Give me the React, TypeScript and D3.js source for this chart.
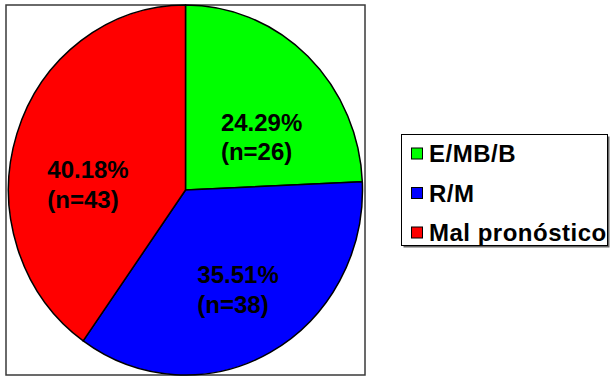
import React from "react";
import * as d3 from "d3";

// Prognosis groups, in drawing order (clockwise from 12 o'clock)
const categories = ["E/MB/B", "R/M", "Mal pronóstico"];
const percents = [24.29, 35.51, 40.18];
const counts = [26, 38, 43];
const colors = ["#00ff00", "#0000ff", "#ff0000"];

const W = 611;
const H = 376;
const FONT = "'Liberation Sans', Arial, Helvetica, sans-serif";

// plot frame and pie geometry
const frame = { x: 6, y: 5, w: 359, h: 370 };
const cx = 185.5;
const cy = 190;
const rx = 177;
const ry = 185;

// small per-slice shifts applied to the label anchor after centroid placement
const LABEL_NUDGE: [number, number][] = [
  [2, 21],
  [1, -4],
  [3, 22],
];

export default function App() {
  const pie = d3
    .pie<number>()
    .sort(null)
    .value((d) => d);
  const arcs = pie(percents);
  const arc = d3.arc<d3.PieArcDatum<number>>().innerRadius(0).outerRadius(rx);
  const labelArc = d3
    .arc<d3.PieArcDatum<number>>()
    .innerRadius(rx * 0.6)
    .outerRadius(rx * 0.6);
  const sy = ry / rx;

  const legendX = 401.5;
  const legendY = 134.5;
  const legendW = 206;
  const legendH = 111;
  const rowY = d3
    .scalePoint<string>()
    .domain(categories)
    .range([153.5, 232.5]);

  return (
    <svg
      width={W}
      height={H}
      style={{ position: "absolute", left: 0, top: 0, background: "#fff" }}
      fontFamily={FONT}
    >
      <rect
        x={frame.x}
        y={frame.y}
        width={frame.w}
        height={frame.h}
        fill="#fff"
        stroke="#3a3a3a"
        strokeWidth={1.5}
      />
      <g transform={`translate(${cx},${cy}) scale(1,${sy})`}>
        {arcs.map((a, i) => (
          <path
            key={categories[i]}
            d={arc(a) || ""}
            fill={colors[i]}
            stroke="#000"
            strokeWidth={1.5}
            strokeLinejoin="round"
            vectorEffect="non-scaling-stroke"
          />
        ))}
      </g>
      {arcs.map((a, i) => {
        const [px, py] = labelArc.centroid(a);
        const ax = cx + px + LABEL_NUDGE[i][0];
        const ay = cy + py * sy + LABEL_NUDGE[i][1];
        return (
          <text
            key={"lbl" + i}
            fontSize={24}
            fontWeight="bold"
            fill="#000"
            textAnchor="start"
          >
            <tspan x={ax - 40} y={ay}>
              {percents[i].toFixed(2)}%
            </tspan>
            <tspan x={ax - 40} y={ay + 29.5}>
              (n={counts[i]})
            </tspan>
          </text>
        );
      })}
      {/* legend */}
      <rect
        x={legendX + 2}
        y={legendY + 2}
        width={legendW}
        height={legendH}
        fill="#666"
      />
      <rect
        x={legendX}
        y={legendY}
        width={legendW}
        height={legendH}
        fill="#fff"
        stroke="#000"
        strokeWidth={1}
      />
      {categories.map((c, i) => {
        const y = rowY(c) as number;
        return (
          <g key={"leg" + c}>
            <rect
              x={411.5}
              y={y - 5.5}
              width={11}
              height={11}
              fill={colors[i]}
              stroke="#000"
              strokeWidth={1}
            />
            <text
              x={429}
              y={y + 8.5}
              fontSize={24}
              fontWeight="bold"
              letterSpacing={0.5}
              fill="#000"
            >
              {c}
            </text>
          </g>
        );
      })}
    </svg>
  );
}
